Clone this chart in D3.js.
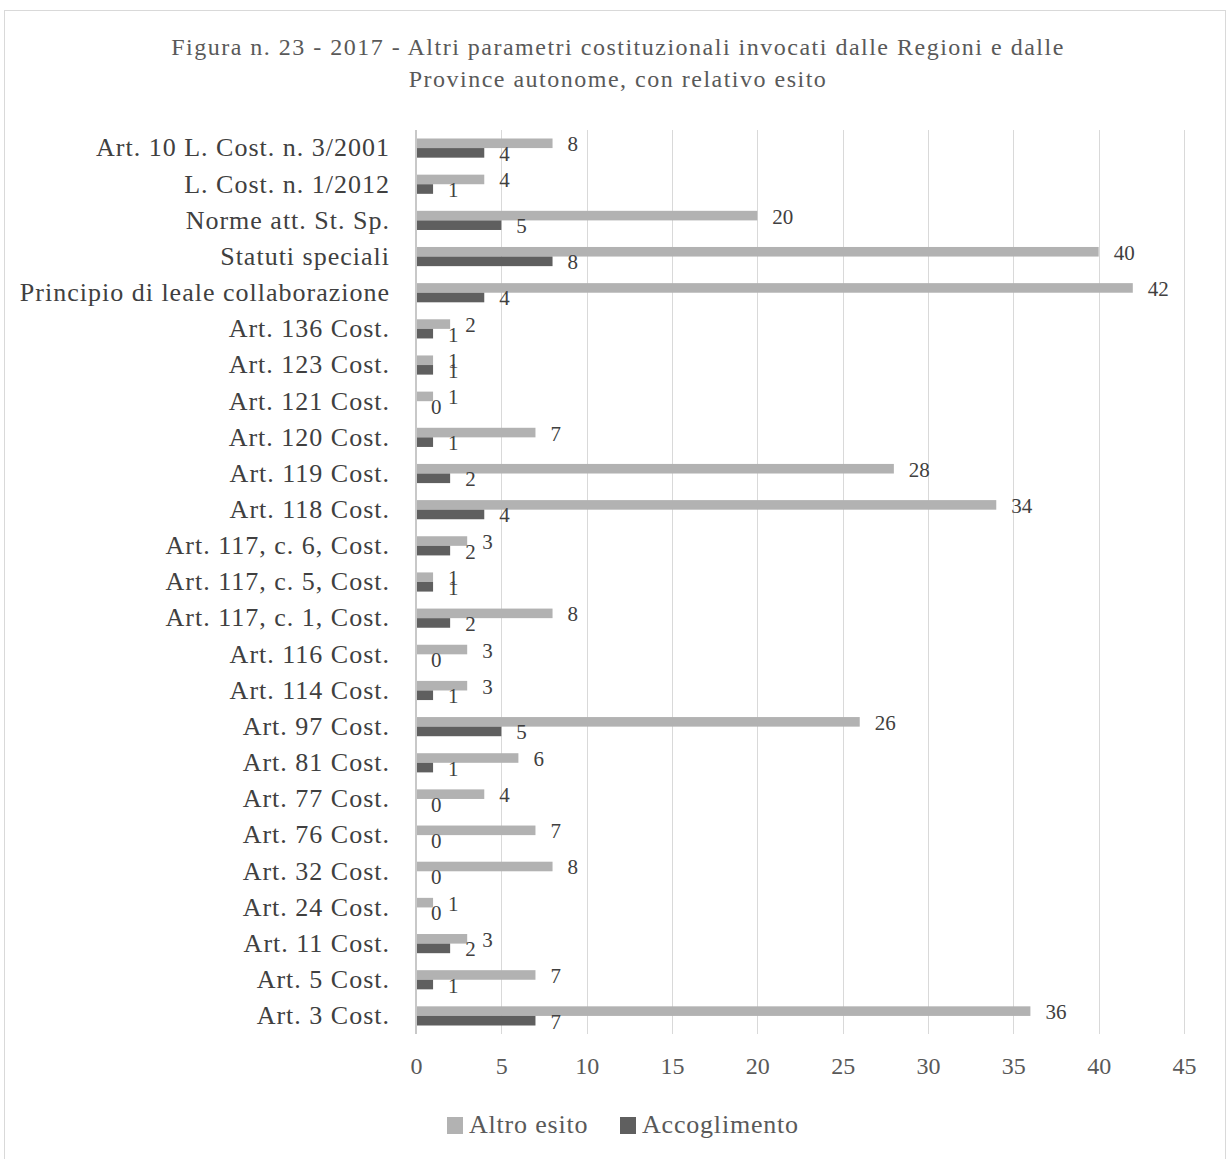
<!DOCTYPE html>
<html>
<head>
<meta charset="utf-8">
<script src="https://cdn.jsdelivr.net/npm/d3@7"></script>
<style>
  html, body { margin: 0; padding: 0; background: #ffffff; }
  svg { display: block; }
  text { font-family: "Liberation Serif", "Times New Roman", serif; }
</style>
</head>
<body>
<svg id="chart" width="1227" height="1159"></svg>
<script>
// Categories, top to bottom
const categories = [
  "Art. 10 L. Cost. n. 3/2001",
  "L. Cost. n. 1/2012",
  "Norme att. St. Sp.",
  "Statuti speciali",
  "Principio di leale collaborazione",
  "Art. 136 Cost.",
  "Art. 123 Cost.",
  "Art. 121 Cost.",
  "Art. 120 Cost.",
  "Art. 119 Cost.",
  "Art. 118 Cost.",
  "Art. 117, c. 6, Cost.",
  "Art. 117, c. 5, Cost.",
  "Art. 117, c. 1, Cost.",
  "Art. 116 Cost.",
  "Art. 114 Cost.",
  "Art. 97 Cost.",
  "Art. 81 Cost.",
  "Art. 77 Cost.",
  "Art. 76 Cost.",
  "Art. 32 Cost.",
  "Art. 24 Cost.",
  "Art. 11 Cost.",
  "Art. 5 Cost.",
  "Art. 3 Cost."
];

// Series values, same order as categories
const altroEsito   = [8, 4, 20, 40, 42, 2, 1, 1, 7, 28, 34, 3, 1, 8, 3, 3, 26, 6, 4, 7, 8, 1, 3, 7, 36];
const accoglimento = [4, 1, 5, 8, 4, 1, 1, 0, 1, 2, 4, 2, 1, 2, 0, 1, 5, 1, 0, 0, 0, 0, 2, 1, 7];

const seriesNames = ["Altro esito", "Accoglimento"];
const xTicks = [0, 5, 10, 15, 20, 25, 30, 35, 40, 45];
const titleLines = [
  "Figura n. 23 - 2017 - Altri parametri costituzionali invocati dalle Regioni e dalle",
  "Province autonome, con relativo esito"
];

const colors = { "Altro esito": "#b2b2b2", "Accoglimento": "#5f5f5f" };

const svg = d3.select("#chart");
const W = 1227, H = 1159;

// Chart frame
svg.append("rect")
  .attr("x", 4.5).attr("y", 10.5)
  .attr("width", 1221).attr("height", H + 10)
  .attr("fill", "#ffffff").attr("stroke", "#d9d9d9").attr("stroke-width", 1);

const plot = { left: 416, right: 1184, top: 130, bottom: 1034 };

const x = d3.scaleLinear().domain([0, 45]).range([plot.left, plot.right]);
const y = d3.scaleBand().domain(categories)
  .range([plot.top, plot.bottom])
  .paddingInner(0.47).paddingOuter(0.235);
const ySub = d3.scaleBand().domain(seriesNames).range([0, y.bandwidth()]);

// Title
svg.append("g").selectAll("text")
  .data(titleLines).join("text")
  .attr("x", 618)
  .attr("y", (d, i) => 55 + i * 32)
  .attr("text-anchor", "middle")
  .attr("font-size", 24)
  .attr("letter-spacing", 1.5)
  .attr("fill", "#595959")
  .text(d => d);

// Vertical gridlines
svg.append("g").selectAll("line")
  .data(xTicks.filter(t => t > 0)).join("line")
  .attr("x1", d => Math.round(x(d)) + 0.5).attr("x2", d => Math.round(x(d)) + 0.5)
  .attr("y1", plot.top).attr("y2", plot.bottom)
  .attr("stroke", "#d9d9d9").attr("stroke-width", 1);

// X axis tick labels
const xAxis = d3.axisBottom(x).tickValues(xTicks).tickSize(0).tickPadding(0);
const xg = svg.append("g").attr("transform", `translate(0, ${plot.bottom + 23})`).call(xAxis);
xg.select(".domain").remove();
xg.selectAll("text")
  .attr("font-size", 24).attr("fill", "#595959")
  .attr("font-family", "Liberation Serif")
  .attr("dy", "0.71em");

// Category labels
const yAxis = d3.axisLeft(y).tickSize(0).tickPadding(26);
const yg = svg.append("g").attr("transform", `translate(${plot.left}, 0)`).call(yAxis);
yg.select(".domain").remove();
yg.selectAll("text")
  .attr("font-size", 26).attr("fill", "#404040")
  .attr("letter-spacing", 1)
  .attr("font-family", "Liberation Serif");

// Bars
const rows = categories.map((c, i) => ({
  cat: c,
  values: [
    { key: "Altro esito", v: altroEsito[i] },
    { key: "Accoglimento", v: accoglimento[i] }
  ]
}));

const groups = svg.append("g").selectAll("g")
  .data(rows).join("g")
  .attr("transform", d => `translate(0, ${y(d.cat)})`);

groups.selectAll("rect")
  .data(d => d.values).join("rect")
  .attr("x", x(0))
  .attr("y", d => ySub(d.key))
  .attr("width", d => x(d.v) - x(0))
  .attr("height", ySub.bandwidth())
  .attr("fill", d => colors[d.key]);

// Value labels
groups.selectAll("text")
  .data(d => d.values).join("text")
  .attr("x", d => x(d.v) + 15)
  .attr("y", d => ySub(d.key) + ySub.bandwidth() / 2 + 1)
  .attr("dominant-baseline", "central")
  .attr("font-size", 21)
  .attr("fill", "#404040")
  .text(d => d.v);

// Left axis line
svg.append("line")
  .attr("x1", plot.left).attr("x2", plot.left)
  .attr("y1", plot.top).attr("y2", plot.bottom)
  .attr("stroke", "#c8c8c8").attr("stroke-width", 2);

// Legend
const legend = svg.append("g").attr("transform", "translate(447, 1117)");
const legendX = [0, 173];
const li = legend.selectAll("g").data(seriesNames).join("g")
  .attr("transform", (d, i) => `translate(${legendX[i]}, 0)`);
li.append("rect").attr("width", 16).attr("height", 17).attr("fill", d => colors[d]);
li.append("text").attr("x", 22).attr("y", 16)
  .attr("font-size", 26).attr("letter-spacing", 0.8).attr("fill", "#595959")
  .text(d => d);
</script>
</body>
</html>
